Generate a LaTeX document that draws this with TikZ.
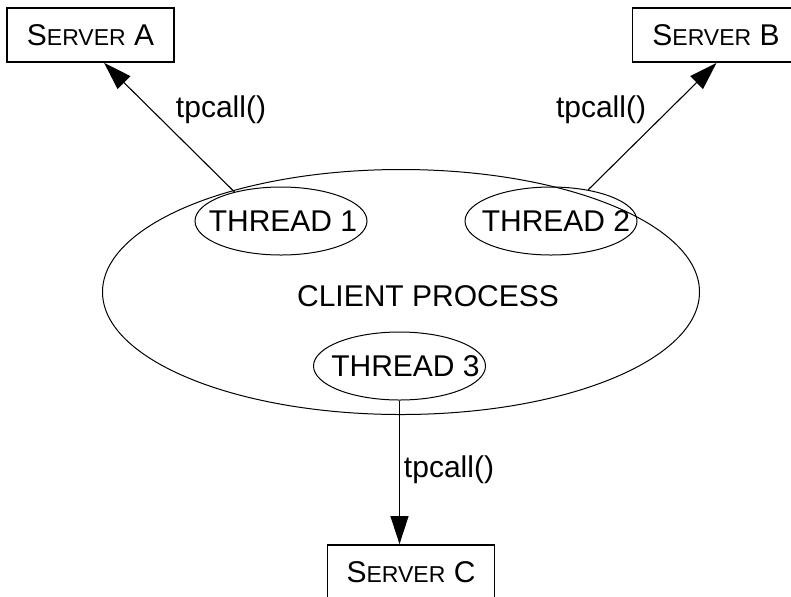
\documentclass[tikz,border=0pt]{standalone}
\usepackage{fontspec}
\setmainfont{Liberation Sans}
\usetikzlibrary{shapes.geometric, arrows.meta}

\newcommand{\servername}[1]{S{\fontsize{11.5}{14}\selectfont ERVER} #1}

\begin{document}
\begin{tikzpicture}[x=0.5pt,y=-0.5pt, font=\fontsize{15}{18}\selectfont,
        server/.style={draw, line width=0.9pt, minimum width=83.5pt, minimum height=27pt, inner sep=0pt},
        thread/.style={draw, ellipse, line width=0.5pt, minimum width=86pt, minimum height=34pt, inner sep=0pt},
        call/.style={-{Triangle[length=14pt,width=9pt]}, line width=0.55pt}]
        \useasboundingbox (0,0) rectangle (791,596);
        \clip (0,0) rectangle (791,596);
        % servers
        \node[server] (srvA) at (90.5,35) {\servername{A}};
        \node[server] (srvB) at (716,35) {\servername{B}};
        \node[server] (srvC) at (411,572) {\servername{C}};
        % client process and its threads
        \node[draw, ellipse, line width=0.5pt, minimum width=298.5pt, minimum height=122.5pt, inner sep=0pt] (client) at (401,292) {};
        \node (clientname) at (428,296) {CLIENT PROCESS};
        \node[thread, label={[xshift=1pt]center:THREAD 1}] (t1) at (281,221) {};
        \node[thread, label={[xshift=2.5pt]center:THREAD 2}] (t2) at (551,221) {};
        \node[thread, label={[xshift=3pt]center:THREAD 3}] (t3) at (399.5,366) {};
        % calls
        \draw[call] (t1.148) -- (srvA.-64);
        \draw[call] (t2.40) -- (srvB.-89);
        \draw[call] (t3.south) -- (t3.south |- srvC.north);
        \node (callA) at (221,110) {tpcall()};
        \node (callB) at (601,110) {tpcall()};
        \node (callC) at (449,470) {tpcall()};
    \end{tikzpicture}
\end{document}
